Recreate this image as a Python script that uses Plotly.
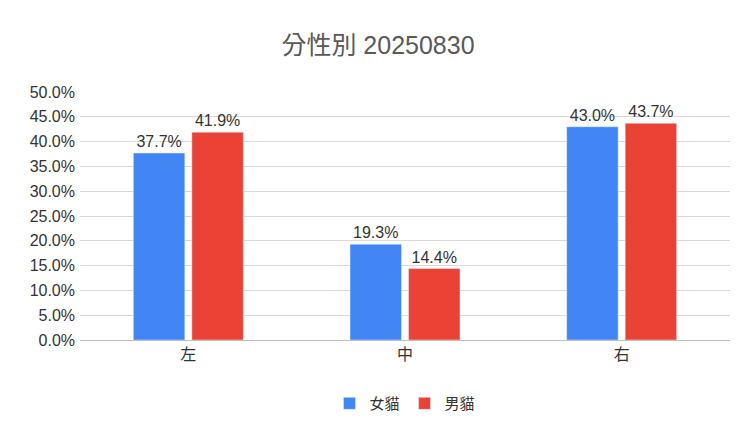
import plotly.graph_objects as go

categories = ["左", "中", "右"]
female = [0.377, 0.193, 0.430]
male = [0.419, 0.144, 0.437]

fig = go.Figure()
fig.add_trace(go.Bar(x=categories, y=female, name="女貓", marker_color="#4285F4",
                     text=[f"{v:.1%}" for v in female], textposition="outside",
                     textfont=dict(size=16), cliponaxis=False))
fig.add_trace(go.Bar(x=categories, y=male, name="男貓", marker_color="#EA4335",
                     text=[f"{v:.1%}" for v in male], textposition="outside",
                     textfont=dict(size=16), cliponaxis=False))

fig.update_layout(
    width=740, height=439,
    title=dict(text="分性別 20250830", x=0.5, y=0.935, xanchor="center",
               font=dict(size=25, color="#595959")),
    font=dict(family="Liberation Sans, Noto Sans CJK TC", size=16, color="#333"),
    barmode="group", bargap=0.46, bargroupgap=0.12,
    plot_bgcolor="white", paper_bgcolor="white",
    margin=dict(l=72, r=18, t=84, b=107),
    legend=dict(orientation="h", x=0.5, xanchor="center", y=-0.19, yanchor="top",
                font=dict(size=15)),
    uniformtext=dict(minsize=16, mode="show"),
)
fig.update_yaxes(range=[0, 0.5], dtick=0.05, tickformat=".1%", gridcolor="#d9d9d9",
                 zeroline=False, ticks="", ticklabelstandoff=4)
fig.update_xaxes(showline=True, linecolor="#bfbfbf", ticks="")
fig.write_html("out.html")
